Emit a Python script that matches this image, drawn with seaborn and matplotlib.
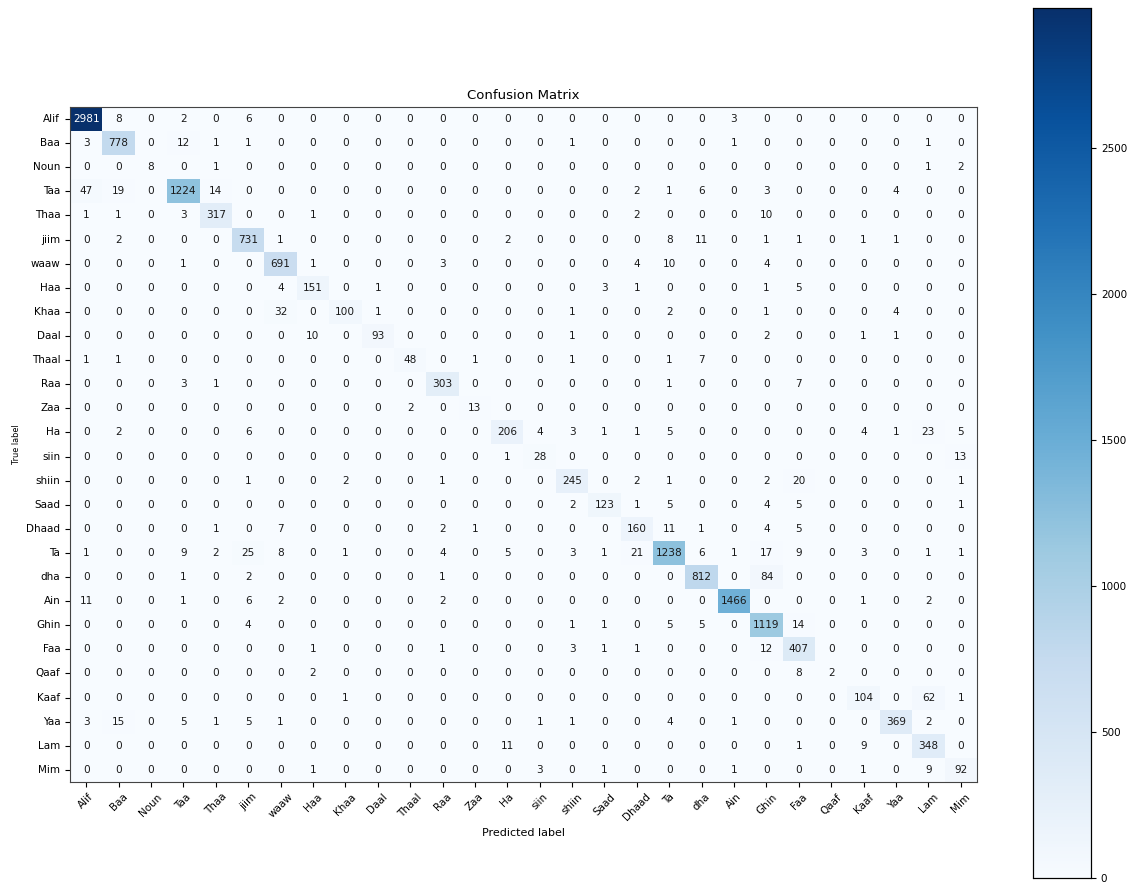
import numpy as np
import pandas as pd
import matplotlib
matplotlib.use("Agg")
import matplotlib.pyplot as plt
from matplotlib import font_manager
import seaborn as sns

classes = ["Alif", "Baa", "Noun", "Taa", "Thaa", "jiim", "waaw", "Haa", "Khaa", "Daal",
           "Thaal", "Raa", "Zaa", "Ha", "siin", "shiin", "Saad", "Dhaad", "Ta", "dha",
           "Ain", "Ghin", "Faa", "Qaaf", "Kaaf", "Yaa", "Lam", "Mim"]

row_alif  = [2981, 8, 0, 2, 0, 6, 0, 0, 0, 0, 0, 0, 0, 0, 0, 0, 0, 0, 0, 0, 3, 0, 0, 0, 0, 0, 0, 0]
row_baa   = [3, 778, 0, 12, 1, 1, 0, 0, 0, 0, 0, 0, 0, 0, 0, 1, 0, 0, 0, 0, 1, 0, 0, 0, 0, 0, 1, 0]
row_noun  = [0, 0, 8, 0, 1, 0, 0, 0, 0, 0, 0, 0, 0, 0, 0, 0, 0, 0, 0, 0, 0, 0, 0, 0, 0, 0, 1, 2]
row_taa   = [47, 19, 0, 1224, 14, 0, 0, 0, 0, 0, 0, 0, 0, 0, 0, 0, 0, 2, 1, 6, 0, 3, 0, 0, 0, 4, 0, 0]
row_thaa  = [1, 1, 0, 3, 317, 0, 0, 1, 0, 0, 0, 0, 0, 0, 0, 0, 0, 2, 0, 0, 0, 10, 0, 0, 0, 0, 0, 0]
row_jiim  = [0, 2, 0, 0, 0, 731, 1, 0, 0, 0, 0, 0, 0, 2, 0, 0, 0, 0, 8, 11, 0, 1, 1, 0, 1, 1, 0, 0]
row_waaw  = [0, 0, 0, 1, 0, 0, 691, 1, 0, 0, 0, 3, 0, 0, 0, 0, 0, 4, 10, 0, 0, 4, 0, 0, 0, 0, 0, 0]
row_haa   = [0, 0, 0, 0, 0, 0, 4, 151, 0, 1, 0, 0, 0, 0, 0, 0, 3, 1, 0, 0, 0, 1, 5, 0, 0, 0, 0, 0]
row_khaa  = [0, 0, 0, 0, 0, 0, 32, 0, 100, 1, 0, 0, 0, 0, 0, 1, 0, 0, 2, 0, 0, 1, 0, 0, 0, 4, 0, 0]
row_daal  = [0, 0, 0, 0, 0, 0, 0, 10, 0, 93, 0, 0, 0, 0, 0, 1, 0, 0, 0, 0, 0, 2, 0, 0, 1, 1, 0, 0]
row_thaal = [1, 1, 0, 0, 0, 0, 0, 0, 0, 0, 48, 0, 1, 0, 0, 1, 0, 0, 1, 7, 0, 0, 0, 0, 0, 0, 0, 0]
row_raa   = [0, 0, 0, 3, 1, 0, 0, 0, 0, 0, 0, 303, 0, 0, 0, 0, 0, 0, 1, 0, 0, 0, 7, 0, 0, 0, 0, 0]
row_zaa   = [0, 0, 0, 0, 0, 0, 0, 0, 0, 0, 2, 0, 13, 0, 0, 0, 0, 0, 0, 0, 0, 0, 0, 0, 0, 0, 0, 0]
row_ha    = [0, 2, 0, 0, 0, 6, 0, 0, 0, 0, 0, 0, 0, 206, 4, 3, 1, 1, 5, 0, 0, 0, 0, 0, 4, 1, 23, 5]
row_siin  = [0, 0, 0, 0, 0, 0, 0, 0, 0, 0, 0, 0, 0, 1, 28, 0, 0, 0, 0, 0, 0, 0, 0, 0, 0, 0, 0, 13]
row_shiin = [0, 0, 0, 0, 0, 1, 0, 0, 2, 0, 0, 1, 0, 0, 0, 245, 0, 2, 1, 0, 0, 2, 20, 0, 0, 0, 0, 1]
row_saad  = [0, 0, 0, 0, 0, 0, 0, 0, 0, 0, 0, 0, 0, 0, 0, 2, 123, 1, 5, 0, 0, 4, 5, 0, 0, 0, 0, 1]
row_dhaad = [0, 0, 0, 0, 1, 0, 7, 0, 0, 0, 0, 2, 1, 0, 0, 0, 0, 160, 11, 1, 0, 4, 5, 0, 0, 0, 0, 0]
row_ta    = [1, 0, 0, 9, 2, 25, 8, 0, 1, 0, 0, 4, 0, 5, 0, 3, 1, 21, 1238, 6, 1, 17, 9, 0, 3, 0, 1, 1]
row_dha   = [0, 0, 0, 1, 0, 2, 0, 0, 0, 0, 0, 1, 0, 0, 0, 0, 0, 0, 0, 812, 0, 84, 0, 0, 0, 0, 0, 0]
row_ain   = [11, 0, 0, 1, 0, 6, 2, 0, 0, 0, 0, 2, 0, 0, 0, 0, 0, 0, 0, 0, 1466, 0, 0, 0, 1, 0, 2, 0]
row_ghin  = [0, 0, 0, 0, 0, 4, 0, 0, 0, 0, 0, 0, 0, 0, 0, 1, 1, 0, 5, 5, 0, 1119, 14, 0, 0, 0, 0, 0]
row_faa   = [0, 0, 0, 0, 0, 0, 0, 1, 0, 0, 0, 1, 0, 0, 0, 3, 1, 1, 0, 0, 0, 12, 407, 0, 0, 0, 0, 0]
row_qaaf  = [0, 0, 0, 0, 0, 0, 0, 2, 0, 0, 0, 0, 0, 0, 0, 0, 0, 0, 0, 0, 0, 0, 8, 2, 0, 0, 0, 0]
row_kaaf  = [0, 0, 0, 0, 0, 0, 0, 0, 1, 0, 0, 0, 0, 0, 0, 0, 0, 0, 0, 0, 0, 0, 0, 0, 104, 0, 62, 1]
row_yaa   = [3, 15, 0, 5, 1, 5, 1, 0, 0, 0, 0, 0, 0, 0, 1, 1, 0, 0, 4, 0, 1, 0, 0, 0, 0, 369, 2, 0]
row_lam   = [0, 0, 0, 0, 0, 0, 0, 0, 0, 0, 0, 0, 0, 11, 0, 0, 0, 0, 0, 0, 0, 0, 1, 0, 9, 0, 348, 0]
row_mim   = [0, 0, 0, 0, 0, 0, 0, 1, 0, 0, 0, 0, 0, 0, 3, 0, 1, 0, 0, 0, 1, 0, 0, 0, 1, 0, 9, 92]

rows = [row_alif, row_baa, row_noun, row_taa, row_thaa, row_jiim, row_waaw, row_haa,
        row_khaa, row_daal, row_thaal, row_raa, row_zaa, row_ha, row_siin, row_shiin,
        row_saad, row_dhaad, row_ta, row_dha, row_ain, row_ghin, row_faa, row_qaaf,
        row_kaaf, row_yaa, row_lam, row_mim]

cm = pd.DataFrame(np.array(rows), index=classes, columns=classes)

# condensed face for the vertical axis label when the system provides one
condensed = [f for f in font_manager.fontManager.ttflist
             if f.name == "DejaVu Sans" and "ondensed" in str(f.stretch) + f.fname]
ylabel_kw = {"fontstretch": "condensed"} if condensed else {}

fig = plt.figure(figsize=(11.27, 8.82), dpi=100)
ax = fig.add_axes([0.0621, 0.1134, 0.8048, 0.7653])
cax = fig.add_axes([0.9166, 0.0045, 0.0515, 0.9864])

sns.heatmap(cm, ax=ax, cbar_ax=cax, cmap="Blues", vmin=0, vmax=cm.values.max(),
            annot=True, fmt="d", annot_kws={"fontsize": 7.6}, square=False)

# white text on dark cells, near-black elsewhere
thresh = cm.values.max() / 2.0
for txt, val in zip(ax.texts, cm.values.flatten()):
    txt.set_color("white" if val > thresh else "#1a1a1a")

for side in ["top", "right", "bottom", "left"]:
    ax.spines[side].set_visible(True)
    ax.spines[side].set_color("#444444")
    ax.spines[side].set_linewidth(0.8)

ax.set_xticklabels(classes, rotation=45, ha="center", fontsize=7.5)
ax.set_yticklabels(classes, rotation=0, fontsize=7.5)
ax.tick_params(axis="both", length=3.5, width=0.8)
ax.set_title("Confusion Matrix", fontsize=9.5)
ax.set_xlabel("Predicted label", fontsize=8)
ax.set_ylabel("True label", fontsize=6.5, **ylabel_kw)

cax.tick_params(labelsize=7.5, length=3.5)
cax.set_yticks([0, 500, 1000, 1500, 2000, 2500])
for side in cax.spines.values():
    side.set_visible(True)
    side.set_linewidth(0.8)

fig.savefig("out.png", dpi=100)
